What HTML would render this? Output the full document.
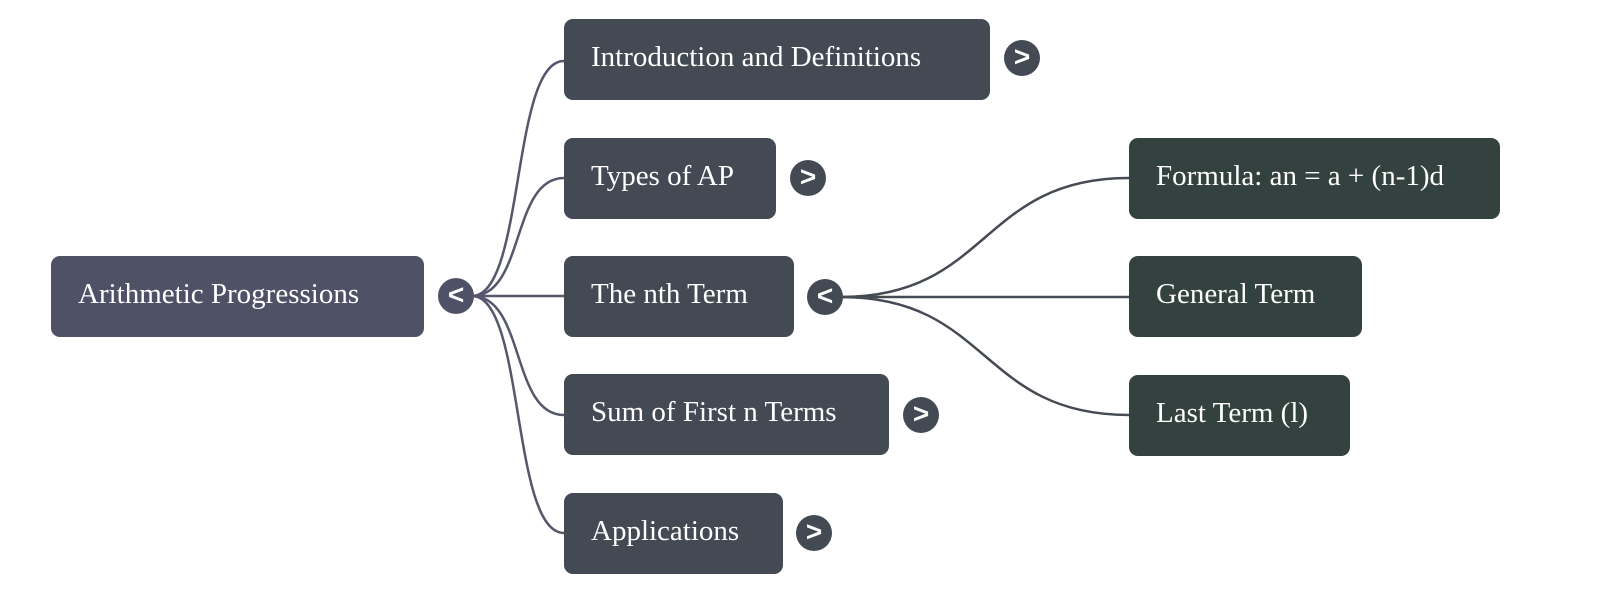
<!DOCTYPE html>
<html><head><meta charset="utf-8"><style>
html,body{margin:0;padding:0;background:#fff;width:1600px;height:593px;overflow:hidden;position:relative}
.b{position:absolute;height:81px;border-radius:9px;color:#fff;font-family:"Liberation Serif",serif;font-size:29px;line-height:77px;padding-left:27px;box-sizing:border-box;white-space:nowrap}
.l1{background:#434a54}.l2{background:#33423e}.r{background:#4f5166}
.c{position:absolute;width:36px;height:36px;border-radius:50%;background:#434a54;color:#fff;font-family:"Liberation Sans",sans-serif;font-size:28px;font-weight:bold;line-height:33px;text-align:center}
svg{position:absolute;left:0;top:0}
</style></head><body>
<svg width="1600" height="593">
<g fill="none" stroke="#55586c" stroke-width="2.5">
<path d="M472 296 C525 296 511 61 564 61"/>
<path d="M472 296 C525 296 511 178 564 178"/>
<path d="M472 296 L564 296"/>
<path d="M472 296 C525 296 511 415 564 415"/>
<path d="M472 296 C525 296 511 533 564 533"/>
</g>
<g fill="none" stroke="#454a54" stroke-width="2.5">
<path d="M841 297 C990 297 980 178 1129 178"/>
<path d="M841 297 L1129 297"/>
<path d="M841 297 C990 297 980 415 1129 415"/>
</g>
</svg>
<div class="b r" style="left:51px;top:256px;width:373px">Arithmetic Progressions</div>
<div class="c" style="left:438px;top:278px;background:#4f5166">&lt;</div>
<div class="b l1" style="left:564px;top:19px;width:426px">Introduction and Definitions</div>
<div class="c" style="left:1004px;top:40px">&gt;</div>
<div class="b l1" style="left:564px;top:138px;width:212px">Types of AP</div>
<div class="c" style="left:790px;top:160px">&gt;</div>
<div class="b l1" style="left:564px;top:256px;width:230px">The nth Term</div>
<div class="c" style="left:807px;top:279px">&lt;</div>
<div class="b l1" style="left:564px;top:374px;width:325px">Sum of First n Terms</div>
<div class="c" style="left:903px;top:397px">&gt;</div>
<div class="b l1" style="left:564px;top:493px;width:219px">Applications</div>
<div class="c" style="left:796px;top:515px">&gt;</div>
<div class="b l2" style="left:1129px;top:138px;width:371px">Formula: an = a + (n-1)d</div>
<div class="b l2" style="left:1129px;top:256px;width:233px">General Term</div>
<div class="b l2" style="left:1129px;top:375px;width:221px">Last Term (l)</div>
</body></html>
